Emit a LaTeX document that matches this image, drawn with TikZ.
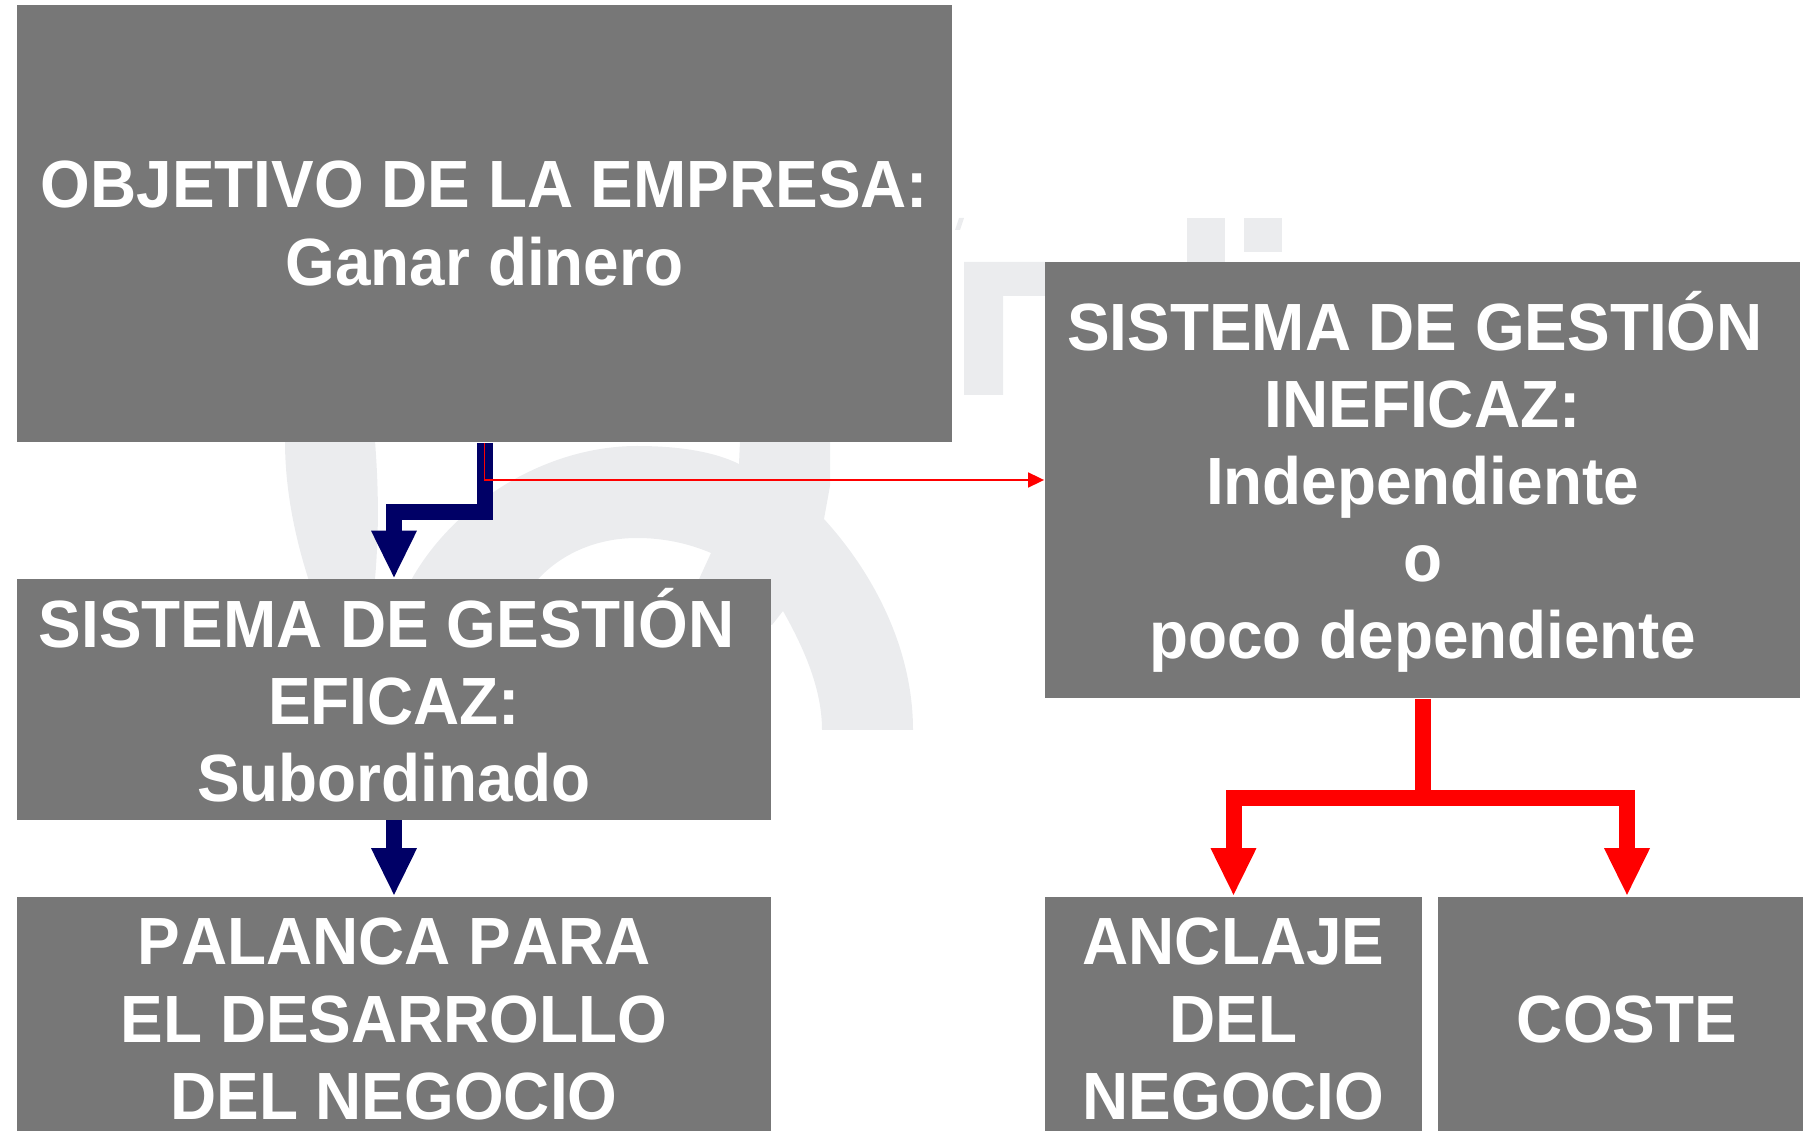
\documentclass[tikz,border=0pt]{standalone}
\usepackage{fontspec}
\setmainfont{Liberation Sans}[BoldFeatures={FakeStretch=0.956}]
\usetikzlibrary{arrows.meta, positioning, calc}
\definecolor{BoxGray}{HTML}{777777}
\definecolor{MarkGray}{HTML}{EBECEE}
\definecolor{FlowNavy}{HTML}{000066}
\definecolor{FlowRed}{HTML}{FF0000}
\tikzset{
    textbox/.style={fill=BoxGray, text=white, inner sep=0pt, align=center,
        font=\fontsize{19}{21.9}\selectfont\bfseries},
    navyflow/.style={FlowNavy, line width=0.16cm, -{Triangle[length=0.48cm, width=0.42cm]}},
    redflow/.style={FlowRed, line width=0.16cm, -{Triangle[length=0.48cm, width=0.42cm]}},
    redstem/.style={FlowRed, line width=0.16cm},
    thinred/.style={FlowRed, line width=0.5pt, -{Triangle[length=0.16cm, width=0.15cm]}}
}

\begin{document}
\begin{tikzpicture}[x=0.01cm, y=-0.01cm]
    \clip (0, 0) rectangle (1803, 1131);

    % Watermark behind the boxes
    \fill[MarkGray] (285, 441) .. controls (285, 490) and (295, 540) .. (312, 590)
        -- (374, 590) .. controls (380, 530) and (378, 480) .. (375, 441) -- cycle;
    \fill[MarkGray] (406, 590) .. controls (445, 510) and (540, 446) .. (637, 446)
        .. controls (680, 446) and (715, 452) .. (739, 464)
        -- (740, 441) -- (830, 441) -- (830, 486) -- (824, 519)
        .. controls (875, 575) and (913, 650) .. (913, 730)
        -- (822, 730) .. controls (822, 690) and (805, 650) .. (783, 611)
        -- (772, 625) -- (694, 590) -- (711, 553)
        .. controls (690, 544) and (665, 538) .. (637, 538)
        .. controls (595, 538) and (555, 555) .. (529, 590) -- cycle;
    \fill[MarkGray] (964, 395) -- (964, 262) -- (1050, 262) -- (1050, 296)
        -- (1003, 296) -- (1003, 395) -- cycle;
    \fill[MarkGray] (1187, 218) rectangle (1225, 262);
    \fill[MarkGray] (1244, 218) rectangle (1282, 252);
    \fill[MarkGray] (955, 230) -- (959, 218) -- (964, 218) -- (960, 230) -- cycle;

    % Boxes
    \node[textbox, minimum width=9.35cm, minimum height=4.37cm] (objetivo) at (484.5, 223.5)
        {OBJETIVO DE LA EMPRESA:\\Ganar dinero};
    \node[textbox, minimum width=7.54cm, minimum height=2.40cm, text depth=0.1cm] (eficaz) at (394, 699.5)
        {SISTEMA DE GESTIÓN\kern0.15cm\\EFICAZ:\\Subordinado};
    \node[textbox, minimum width=7.54cm, minimum height=2.44cm] (palanca) at (394, 1019)
        {P\kern0.01cm ALANCA P\kern0.01cm ARA\\EL DESARROLLO\\DEL NEGOCIO};
    \node[textbox, minimum width=7.55cm, minimum height=4.36cm, text depth=0.1cm] (ineficaz) at (1422.5, 480)
        {SISTEMA DE GESTIÓN\kern0.15cm\\INEFICAZ:\\Independiente\\o\\poco dependiente};
    \node[textbox, minimum width=3.77cm, minimum height=2.44cm] (anclaje) at (1233.5, 1019)
        {ANCLAJE\\DEL\\NEGOCIO};
    \node[textbox, minimum width=3.78cm, minimum height=2.44cm] (coste) at (1627, 1019)
        {COSTE};

    % Navy arrows
    \draw[navyflow] (objetivo.south) -- ++(0, 69) -| (eficaz.north);
    \draw[navyflow] (eficaz.south) -- (palanca.north);

    % Thin red branch
    \draw[thinred] (objetivo.south) |- (ineficaz.west);

    % Red fork
    \coordinate (forkend) at ($(ineficaz.south)+(0, 107)$);
    \coordinate (forkmid) at ($(ineficaz.south)+(0, 99)$);
    \draw[redstem] (ineficaz.south) -- (forkend);
    \draw[redflow] (forkmid) -| (anclaje.north);
    \draw[redflow] (forkmid) -| (coste.north);
\end{tikzpicture}
\end{document}
